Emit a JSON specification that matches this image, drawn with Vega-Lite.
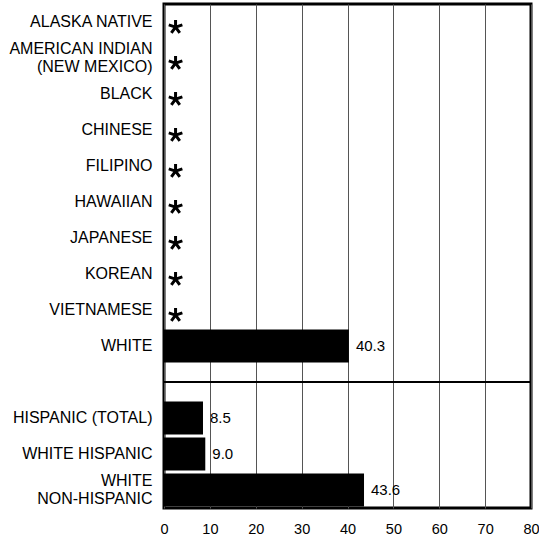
{
  "$schema": "https://vega.github.io/schema/vega-lite/v6.json",
  "autosize": {"type": "none"},
  "padding": {"left": 164, "top": 4, "right": 8, "bottom": 28},
  "width": 367,
  "height": 504,
  "config": {
    "font": "Liberation Sans",
    "view": {"stroke": "black", "strokeWidth": 3},
    "background": "white"
  },
  "data": {
    "values": [
      {"group": "ALASKA NATIVE", "value": null},
      {"group": "AMERICAN INDIAN|(NEW MEXICO)", "value": null},
      {"group": "BLACK", "value": null},
      {"group": "CHINESE", "value": null},
      {"group": "FILIPINO", "value": null},
      {"group": "HAWAIIAN", "value": null},
      {"group": "JAPANESE", "value": null},
      {"group": "KOREAN", "value": null},
      {"group": "VIETNAMESE", "value": null},
      {"group": "WHITE", "value": 40.3},
      {"group": "HISPANIC (TOTAL)", "value": 8.5},
      {"group": "WHITE HISPANIC", "value": 9.0},
      {"group": "WHITE|NON-HISPANIC", "value": 43.6}
    ]
  },
  "encoding": {
    "y": {
      "field": "group",
      "type": "nominal",
      "scale": {
        "domain": ["ALASKA NATIVE", "AMERICAN INDIAN|(NEW MEXICO)", "BLACK", "CHINESE", "FILIPINO", "HAWAIIAN", "JAPANESE", "KOREAN", "VIETNAMESE", "WHITE", " ", "HISPANIC (TOTAL)", "WHITE HISPANIC", "WHITE|NON-HISPANIC"],
        "paddingInner": 0.08,
        "paddingOuter": 0.04
      },
      "axis": {
        "title": null,
        "ticks": false,
        "domain": false,
        "labelPadding": 12,
        "labelFontSize": 16,
        "labelColor": "black",
        "labelLineHeight": 18,
        "labelOffset": {"condition": {"test": "indexof(datum.label, '|') >= 0", "value": -9}, "value": 0},
        "labelExpr": "split(datum.label, '|')"
      }
    }
  },
  "layer": [
    {
      "transform": [{"filter": "datum.value != null"}],
      "mark": {"type": "bar", "color": "black"},
      "encoding": {
        "x": {
          "field": "value",
          "type": "quantitative",
          "scale": {"domain": [0, 80], "nice": false},
          "axis": {
            "title": null,
            "values": [0, 10, 20, 30, 40, 50, 60, 70, 80],
            "ticks": false,
            "domain": false,
            "grid": true,
            "gridColor": "#555",
            "gridWidth": 1,
            "gridOpacity": 1,
            "labelPadding": 14,
            "labelFontSize": 14.5,
            "labelColor": "black",
            "labelFlush": false
          }
        }
      }
    },
    {
      "transform": [{"filter": "datum.value != null"}],
      "mark": {"type": "text", "align": "left", "baseline": "middle", "dx": 7, "fontSize": 15, "color": "black"},
      "encoding": {
        "x": {"field": "value", "type": "quantitative"},
        "text": {"field": "value", "type": "quantitative", "format": ".1f"}
      }
    },
    {
      "transform": [{"filter": "datum.value == null"}],
      "mark": {
        "type": "point",
        "filled": false,
        "stroke": "black",
        "strokeWidth": 3,
        "opacity": 1,
        "size": 185,
        "shape": "M1.7,0.75L1.7,-0.3M1.7,0.75L2.7,0.43M1.7,0.75L2.32,1.6M1.7,0.75L1.08,1.6M1.7,0.75L0.7,0.43"
      },
      "encoding": {
        "x": {"datum": 0, "type": "quantitative"}
      }
    },
    {
      "data": {"values": [{"sep": " "}]},
      "mark": {"type": "rule", "color": "black", "strokeWidth": 2},
      "encoding": {
        "y": {"field": "sep", "type": "nominal", "bandPosition": 0.5}
      }
    }
  ]
}
